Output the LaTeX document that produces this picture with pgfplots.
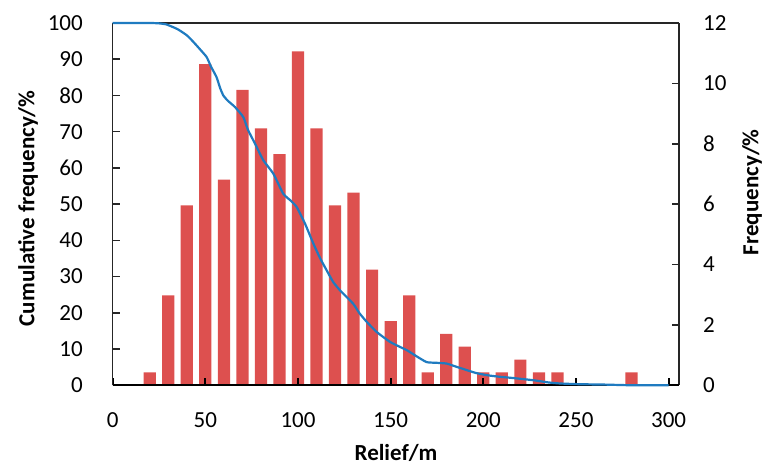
\documentclass[border=0pt]{standalone}
\usepackage{fontspec}
\setmainfont{Carlito}
\usepackage{pgfplots}
\pgfplotsset{compat=1.18}

\definecolor{barred}{RGB}{221,80,79}
\definecolor{cumblue}{RGB}{31,123,192}
\definecolor{frame}{RGB}{38,38,38}

\newcommand{\tickfont}{\fontsize{23}{23}\selectfont}
\newcommand{\labfont}{\fontsize{23}{23}\selectfont\bfseries}

\pgfplotsset{
  common/.style={
    at={(0,0)}, anchor=south west,
    scale only axis, width=566.3pt, height=362.3pt,
    xmin=0, xmax=305.6,
    /pgf/number format/assume math mode=true,
    tick label style={font=\tickfont},
    tick align=inside,
    major tick length=7pt,
  }
}

\begin{document}
\begin{tikzpicture}
\useasboundingbox (-112.7pt,-82.7pt) rectangle (650.3pt,385.3pt);

% frequency histogram (right axis)
\begin{axis}[common,
  ymin=0, ymax=12,
  axis x line*=top, axis y line*=right,
  xtick=\empty,
  ytick={0,2,...,12},
  x axis line style={draw=frame, line width=1.5pt, -},
  y axis line style={draw=frame, line width=1.5pt, -},
  ytick style={draw=frame, line width=1.5pt},
  yticklabel style={inner sep=0pt, anchor=west, xshift=24pt},
  ylabel={Frequency/\%},
  every axis y label/.style={at={(axis description cs:1.1289,0.533)}, anchor=center, rotate=90, font=\labfont},
  ybar, bar width=6.6,
]
\addplot[fill=barred, draw=none] coordinates {
  (20,0.426) (30,2.979) (40,5.957) (50,10.638) (60,6.809) (70,9.787)
  (80,8.511) (90,7.660) (100,11.064) (110,8.511) (120,5.957) (130,6.383)
  (140,3.830) (150,2.128) (160,2.979) (170,0.426) (180,1.702) (190,1.277)
  (200,0.426) (210,0.426) (220,0.851) (230,0.426) (240,0.426) (280,0.426)
};
\end{axis}

% cumulative frequency curve (left axis)
\begin{axis}[common,
  ymin=0, ymax=100,
  clip=false,
  axis x line*=bottom, axis y line*=left,
  xtick={0,50,...,300},
  ytick={0,10,...,100},
  x axis line style={draw=black, line width=2.2pt, -},
  y axis line style={draw=frame, line width=1.5pt, -},
  xtick style={draw=black, line width=2pt},
  ytick style={draw=frame, line width=1.5pt},
  xticklabel style={inner sep=0pt, anchor=north, yshift=-27pt},
  yticklabel style={inner sep=0pt, anchor=east, xshift=-29.7pt},
  xlabel={Relief/m},
  ylabel={Cumulative frequency/\%},
  every axis x label/.style={at={(axis description cs:0.5003,-0.186)}, anchor=center, font=\labfont},
  every axis y label/.style={at={(axis description cs:-0.1496,0.4886)}, anchor=center, rotate=90, font=\labfont},
]
\addplot[cumblue, line width=2.2pt, smooth, tension=0.3] coordinates {
  (0,100) (20,100) (25,99.9) (29,99.6) (35,98.3) (40,96.6) (43.5,94.8)
  (47,92.8) (50.7,90.6) (53,88) (56,85.1) (58,82) (59.7,80) (62,78.6)
  (66,76.8) (70.5,74) (73,70.5) (76.8,66.7) (81.3,62.1) (86.7,58.4)
  (92,52.9) (96,51) (99.3,49.2) (103.8,44.6) (108.3,39.1) (112,35)
  (115.5,31.7) (119,28.5) (122.7,26.2) (129.8,22.5) (133,20) (137.1,17.5)
  (142.5,14.7) (149.6,12.0) (155,10.6) (158.7,9.7) (164,8) (169.4,6.4)
  (175,6.2) (180.2,6.0) (185,5.2) (191,4.2) (196,3.4) (201.8,2.8)
  (208,2.4) (216.2,2.0) (227,1.4) (235,0.8) (241.4,0.5) (252,0.3)
  (265,0.2) (280.8,0) (300,0)
};
\end{axis}
\end{tikzpicture}
\end{document}
